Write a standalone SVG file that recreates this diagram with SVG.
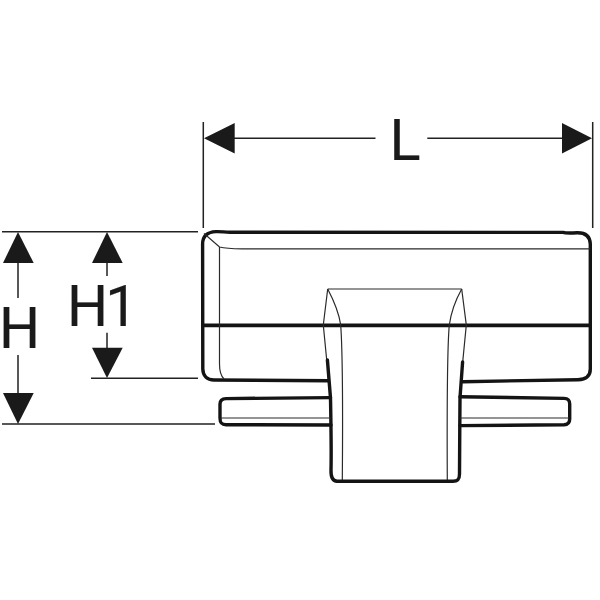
<svg xmlns="http://www.w3.org/2000/svg" width="600" height="600" viewBox="0 0 600 600">
<style>
.k{fill:none;stroke:#141414;stroke-width:3.4;stroke-linejoin:round;stroke-linecap:round}
.m{fill:none;stroke:#141414;stroke-width:3.8}
.t{fill:none;stroke:#2a2a2a;stroke-width:1.2}
.d{fill:none;stroke:#222;stroke-width:1.5}
.a{fill:#1a1a1a;stroke:none}
.x{font-family:Roboto,"Liberation Sans",Arial,sans-serif;font-size:57.7px;fill:#1a1a1a;stroke:#1a1a1a;stroke-width:.2}
</style>
<rect width="600" height="600" fill="#fff"/>
<g id="fitting">
<path class="k" d="M328.5 380.8L214 380C207 380 203 376 202.8 369L202.6 244C202.6 236 207 232 216 231.6C222 231.4 224 232.3 230 232.3L563 232.4C566 233.4 570 233.2 577 232.8C585 232.6 590 236 590.3 244L590.3 369C590.3 376 586 379.5 578 379.7L463 381.7"/>
<path class="m" d="M202.6 325.3H590.3"/>
<path class="t" d="M204 233.5L219.5 247C224 248.2 232 248.8 242 248.8H590"/>
<path class="t" d="M219.5 247V364C219.5 372 221 376 224 379"/>
<path class="t" d="M327.7 289H461.7"/>
<path class="t" d="M327.7 289L323.3 325L326.7 360"/>
<path class="t" d="M327.7 289C334 301 339 313 340.7 325C342.5 350 342.8 420 342.3 481"/>
<path class="t" d="M461.7 289L466.3 325L462.7 362"/>
<path class="t" d="M461.7 289C455 301 451 313 449.3 325C447 350 447 420 447.3 481"/>
<path class="k" d="M327.4 360L330.5 398C331 425 331.5 450 331 470C330.8 477 332 481 337 481.3L453 481.3C458 481.3 459.5 479 459.5 474L459.8 425L460 398L462.6 362"/>
<path class="k" d="M330.5 397.6L226 398.6C221.5 398.8 220 400.5 220 404L220 418C220 423 221.5 424.6 226 424.7L331 425"/>
<path class="k" d="M460 396.8L564 398.4C568 398.6 569.7 400 569.7 404L569.7 419C569.7 423 568 424.6 564 424.8L460 425.6"/>
<path class="t" d="M220.5 418H330.5M460 418H569"/>
</g>
<g id="dimensions">
<path class="d" d="M203.3 122V228M592.7 122V228"/>
<path class="d" d="M206 138.3H375.5M427.3 138.3H590"/>
<path class="d" d="M2 231.7H198M91 378.3H198M2 424H215"/>
<path class="d" d="M18 240V298M18 355V420M107 240V276M107 332.7V374"/>
<polygon class="a" points="204,138.3 234.7,123 234.7,153.6"/>
<polygon class="a" points="592,138.3 562,123 562,153.6"/>
<polygon class="a" points="18,232 33.7,263 3,263"/>
<polygon class="a" points="18,424 33.7,393 3,393"/>
<polygon class="a" points="107,232 122.7,263 92,263"/>
<polygon class="a" points="107,378 122.7,347.7 92,347.7"/>
<text class="x" x="389.5" y="160">L</text>
<text class="x" x="-1" y="348.3">H</text>
<text class="x" x="67" y="326" letter-spacing="-3">H1</text>
</g>
</svg>
